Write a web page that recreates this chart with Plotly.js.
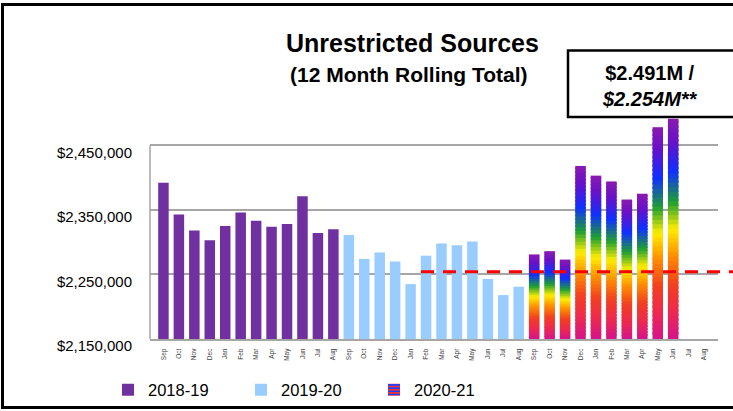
<!DOCTYPE html>
<html><head><meta charset="utf-8">
<script src="https://cdn.plot.ly/plotly-3.0.1.min.js"></script>
<style>
html,body{margin:0;padding:0;background:#fff;}
#wrap{position:relative;width:733px;height:411px;overflow:hidden;}
#chart{width:733px;height:411px;}
#frame{position:absolute;left:1px;top:3px;width:760px;height:400px;border:3px solid #000;pointer-events:none;}
</style>
</head><body>
<div id="wrap"><div id="chart"></div><div id="frame"></div></div>
<script>
const months = ["Sep","Oct","Nov","Dec","Jan","Feb","Mar","Apr","May","Jun","Jul","Aug"];
const seriesNames = ["2018-19","2019-20","2020-21"];
const fy1819 = [2392000,2343000,2318000,2303000,2325000,2346000,2333000,2324000,2328000,2371000,2314000,2320000];
const fy1920 = [2311000,2274000,2284000,2270000,2235000,2279000,2298000,2295000,2301000,2243000,2218000,2231000];
const fy2021 = [2281000,2286000,2273000,2418000,2403000,2394000,2366000,2375000,2478000,2491000,null,null];
const comparisonValue = 2254000;
const yTicks = [2150000,2250000,2350000,2450000];
const yTickLabels = ["$2,150,000","$2,250,000","$2,350,000","$2,450,000"];
const titleText = "Unrestricted Sources";
const subtitleText = "(12 Month Rolling Total)";
const calloutText = "<b>$2.491M /</b><br><b><i>$2.254M**</i></b>";

const purple = "#7030a0", lightBlue = "#99ccff";
const rainbowStops = [
  [0.00,[212,20,140]],[0.12,[238,40,80]],[0.25,[242,64,32]],[0.38,[255,144,0]],
  [0.50,[255,238,0]],[0.62,[32,160,48]],[0.76,[16,48,255]],[0.90,[106,16,200]],[1.00,[138,26,176]]
];
function rainbow(t){
  for(let i=1;i<rainbowStops.length;i++){
    const [t1,c1]=rainbowStops[i-1],[t2,c2]=rainbowStops[i];
    if(t<=t2){const f=(t-t1)/(t2-t1);return "rgb("+c1.map((c,j)=>Math.round(c+(c2[j]-c)*f)).join(",")+")";}
  }
  return "rgb(138,26,176)";
}

const base = yTicks[0];
const xIdx = (s)=>months.map((m,i)=>s*12+i);
const barW = 0.68;
const traces = [
  {type:"bar",name:seriesNames[0],x:xIdx(0),y:fy1819.map(v=>v-base),base:base,width:barW,marker:{color:purple,line:{width:0}},hoverinfo:"skip"},
  {type:"bar",name:seriesNames[1],x:xIdx(1),y:fy1920.map(v=>v-base),base:base,width:barW,marker:{color:lightBlue,line:{width:0}},hoverinfo:"skip"},
  {type:"bar",name:seriesNames[2],x:[null],y:[null],width:barW,
   marker:{color:"#ffdd00",line:{width:0},pattern:{shape:"-",fgcolor:"#2040ff",bgcolor:"#ff3030",size:4,solidity:0.5}},hoverinfo:"skip"}
];
const N = 48;
for(let k=0;k<N;k++){
  const f = k<N-1 ? 1.6 : 1;
  traces.push({type:"bar",showlegend:false,x:xIdx(2),
    base:fy2021.map(v=>v==null?null:base+(v-base)*k/N),
    y:fy2021.map(v=>v==null?null:(v-base)/N*f),
    width:barW,marker:{color:rainbow((k+0.5)/N),line:{width:0}},hoverinfo:"skip"});
}

const L=150,R=15,T=113,B=72,W=733-L-R,H=411-T-B;
const px=(x)=>(x-L)/W, py=(y)=>(411-B-y)/H;

const tickvals=[],ticktext=[];
for(let s=0;s<3;s++) months.forEach((m,i)=>{tickvals.push(s*12+i);ticktext.push(m);});

const layout = {
  width:733,height:411,margin:{l:L,r:R,t:T,b:B,pad:0,autoexpand:false},
  paper_bgcolor:"#fff",plot_bgcolor:"#fff",barmode:"overlay",
  font:{family:"Liberation Sans, Arial, sans-serif",color:"#000"},
  showlegend:true,
  legend:{orientation:"h",xref:"container",yref:"container",x:108/733,xanchor:"left",y:(411-390)/411,yanchor:"middle",
    entrywidth:88,entrywidthmode:"pixels",font:{size:16.5,family:"Liberation Sans, sans-serif"},
    itemclick:false,itemdoubleclick:false,traceorder:"normal"},
  xaxis:{range:[-0.87,35.9],tickmode:"array",tickvals:tickvals,ticktext:ticktext,tickangle:-90,
    tickfont:{size:6.5,color:"#404040"},showgrid:false,zeroline:false,showline:true,linecolor:"#a6a6a6",linewidth:2,
    ticks:"",ticklabelstandoff:5,fixedrange:true,automargin:false},
  yaxis:{range:[2150000,2500000],tickmode:"array",tickvals:yTicks,ticktext:yTickLabels,
    tickfont:{size:15,color:"#000"},gridcolor:"#a6a6a6",gridwidth:2,zeroline:false,showline:false,
    ticks:"",ticklabelshift:7,ticklabelstandoff:17,fixedrange:true,automargin:false},
  shapes:[
    {type:"line",xref:"paper",yref:"y",x0:0,x1:0,y0:yTicks[0],y1:yTicks[yTicks.length-1],line:{color:"#a6a6a6",width:1.5}},
    {type:"line",xref:"paper",yref:"y",x0:px(421),x1:px(740),y0:comparisonValue,y1:comparisonValue,
     line:{color:"#ff0000",width:3,dash:"13px,9px"},layer:"above"},
    {type:"rect",xref:"paper",yref:"paper",x0:px(568),x1:px(760),y0:py(117),y1:py(50.5),
     line:{color:"#000",width:2.5},fillcolor:"#fff",layer:"above"}
  ],
  annotations:[
    {xref:"paper",yref:"paper",x:px(412),y:py(43),text:"<b>"+titleText+"</b>",showarrow:false,
     font:{size:25,color:"#000"},xanchor:"center",yanchor:"middle"},
    {xref:"paper",yref:"paper",x:px(409),y:py(74),text:"<b>"+subtitleText+"</b>",showarrow:false,
     font:{size:21,color:"#000"},xanchor:"center",yanchor:"middle"},
    {xref:"paper",yref:"paper",x:px(650),y:py(86),text:calloutText,showarrow:false,
     font:{size:20,color:"#000"},xanchor:"center",yanchor:"middle",align:"center"}
  ]
};
Plotly.newPlot("chart",traces,layout,{displayModeBar:false,staticPlot:true});
</script>
</body></html>
